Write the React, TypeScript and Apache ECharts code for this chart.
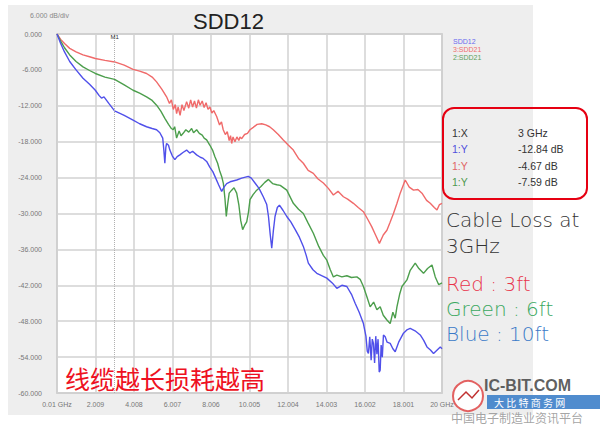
import React, { useEffect, useRef } from "react";
import * as echarts from "echarts";

const X0 = 0.01; // start frequency (GHz)
const X_STEP = 1.999;
const xTickLabels = ["0.01 GHz", "2.009", "4.008", "6.007", "8.006", "10.005", "12.004", "14.003", "16.002", "18.001", "20 GHz"];

const seriesNames = ["SDD12", "3:SDD21", "2:SDD21"];

const redFreq = [0.01, 0.2, 0.4, 0.67, 1.0, 1.36, 1.7, 2.0, 2.5, 3.0, 3.5, 3.96, 4.3, 4.66, 4.95, 5.18, 5.45, 5.7, 5.85, 5.95, 6.05, 6.15, 6.22, 6.3, 6.4, 6.5, 6.6, 6.74, 6.85, 6.95, 7.05, 7.15, 7.25, 7.35, 7.44, 7.55, 7.65, 7.75, 7.85, 7.95, 8.05, 8.15, 8.3, 8.45, 8.55, 8.64, 8.75, 8.85, 8.95, 9.02, 9.08, 9.15, 9.25, 9.35, 9.45, 9.51, 9.6, 9.75, 9.9, 10.03, 10.2, 10.4, 10.64, 10.85, 11.05, 11.24, 11.5, 11.76, 12.0, 12.28, 12.55, 12.8, 13.05, 13.32, 13.55, 13.84, 14.1, 14.36, 14.6, 14.88, 15.1, 15.4, 15.65, 15.92, 16.15, 16.35, 16.55, 16.75, 16.95, 17.14, 17.3, 17.48, 17.65, 17.83, 18.09, 18.3, 18.52, 18.75, 18.96, 19.2, 19.39, 19.6, 19.74, 19.87, 20.0];
const redDb = [0, -0.9, -1.6, -2.4, -3.0, -3.5, -3.8, -4.1, -4.4, -4.67, -5.2, -5.9, -6.2, -6.6, -7.2, -8.0, -9.2, -10.5, -11.6, -11.0, -12.6, -11.8, -13.3, -12.2, -13.6, -11.8, -12.8, -11.3, -12.4, -11.0, -12.2, -11.2, -12.4, -11.0, -11.9, -11.2, -12.3, -11.5, -12.6, -12.2, -13.2, -12.8, -13.8, -15.2, -14.7, -16.0, -16.8, -16.3, -17.8, -17.0, -18.3, -17.2, -18.0, -17.2, -17.8, -17.2, -17.5, -16.8, -16.6, -16.0, -15.6, -15.1, -15.0, -15.2, -15.5, -16.0, -16.8, -17.7, -18.5, -19.4, -20.8, -21.6, -22.8, -23.3, -24.2, -24.9, -25.8, -26.9, -26.3, -27.2, -27.6, -28.3, -29.0, -29.7, -31.0, -32.2, -33.6, -35.0, -33.6, -32.8, -31.5, -30.0, -28.4, -26.6, -24.4, -25.6, -26.1, -26.0, -26.6, -27.8, -28.3, -29.0, -29.4, -28.5, -28.3];

const greenFreq = [0.01, 0.2, 0.4, 0.67, 1.0, 1.36, 1.7, 2.0, 2.5, 3.0, 3.5, 3.96, 4.3, 4.66, 4.95, 5.18, 5.4, 5.61, 5.8, 5.95, 6.04, 6.12, 6.22, 6.35, 6.45, 6.56, 6.7, 6.85, 7.0, 7.1, 7.26, 7.4, 7.55, 7.65, 7.78, 7.95, 8.1, 8.21, 8.35, 8.45, 8.56, 8.65, 8.73, 8.8, 8.87, 8.95, 9.08, 9.2, 9.34, 9.45, 9.55, 9.65, 9.75, 9.86, 9.95, 10.03, 10.2, 10.38, 10.6, 10.8, 10.99, 11.2, 11.42, 11.6, 11.94, 12.28, 12.55, 12.8, 13.05, 13.32, 13.6, 13.84, 14.02, 14.2, 14.36, 14.54, 14.8, 15.06, 15.3, 15.58, 15.75, 15.92, 16.1, 16.27, 16.45, 16.62, 16.79, 16.95, 17.14, 17.31, 17.45, 17.57, 17.66, 17.8, 17.92, 18.18, 18.35, 18.61, 18.8, 19.04, 19.25, 19.48, 19.65, 19.83, 20.0];
const greenDb = [0, -1.2, -2.3, -3.5, -4.6, -5.5, -6.1, -6.6, -7.2, -7.59, -8.5, -9.4, -9.9, -10.5, -11.1, -11.9, -12.9, -14.1, -15.1, -15.8, -16.0, -15.5, -17.4, -16.2, -17.0, -16.6, -16.0, -16.4, -15.8, -16.5, -16.0, -16.6, -16.9, -17.4, -17.7, -18.6, -19.5, -20.5, -21.6, -22.8, -23.8, -25.0, -27.5, -30.5, -28.5, -26.6, -26.1, -25.7, -26.6, -28.5, -31.2, -32.7, -32.0, -31.4, -29.8, -27.7, -26.8, -26.1, -25.5, -24.8, -24.3, -25.0, -25.2, -25.3, -26.1, -28.3, -29.3, -30.0, -31.6, -33.3, -35.5, -37.0, -37.8, -39.4, -40.6, -40.3, -40.6, -40.4, -40.7, -40.6, -41.0, -42.2, -43.9, -45.6, -44.8, -46.1, -45.6, -47.0, -47.8, -48.4, -46.5, -47.5, -45.6, -43.5, -42.2, -41.1, -39.5, -38.3, -39.2, -40.0, -39.2, -38.6, -40.6, -41.9, -41.6];

const blueFreq = [0.01, 0.2, 0.4, 0.67, 1.0, 1.36, 1.7, 2.0, 2.2, 2.32, 2.45, 2.7, 3.0, 3.5, 3.96, 4.3, 4.66, 4.95, 5.18, 5.35, 5.5, 5.56, 5.61, 5.66, 5.7, 5.8, 5.87, 6.0, 6.13, 6.25, 6.39, 6.55, 6.74, 6.9, 7.05, 7.26, 7.45, 7.6, 7.78, 7.95, 8.1, 8.21, 8.4, 8.56, 8.7, 8.82, 9.0, 9.34, 9.6, 9.94, 10.1, 10.29, 10.5, 10.72, 10.9, 10.99, 11.08, 11.16, 11.24, 11.33, 11.45, 11.56, 11.75, 11.94, 12.15, 12.38, 12.6, 12.8, 12.95, 13.06, 13.3, 13.5, 13.75, 14.02, 14.3, 14.54, 14.8, 15.06, 15.3, 15.49, 15.7, 15.92, 16.05, 16.12, 16.18, 16.25, 16.32, 16.38, 16.44, 16.5, 16.56, 16.62, 16.68, 16.74, 16.79, 16.84, 16.9, 16.96, 17.05, 17.15, 17.31, 17.45, 17.57, 17.75, 18.0, 18.2, 18.35, 18.6, 18.87, 19.05, 19.22, 19.4, 19.56, 19.75, 19.91, 20.0];
const blueDb = [0, -1.6, -3.0, -4.6, -6.0, -7.4, -8.4, -9.4, -10.3, -10.7, -10.5, -11.6, -12.84, -13.6, -14.4, -15.0, -15.5, -15.8, -16.0, -16.5, -17.4, -19.5, -21.6, -19.0, -18.3, -18.6, -19.4, -20.4, -21.0, -20.5, -20.2, -19.8, -19.4, -19.9, -19.6, -20.2, -20.6, -20.8, -21.3, -22.3, -23.0, -23.8, -25.2, -26.3, -25.5, -25.0, -24.7, -24.4, -24.1, -23.8, -24.1, -24.9, -25.8, -27.2, -28.5, -30.5, -33.5, -35.8, -33.0, -30.5, -29.0, -28.6, -29.5, -30.5, -31.4, -32.7, -34.0, -35.5, -37.0, -38.3, -39.4, -40.0, -40.4, -40.8, -41.6, -42.5, -42.0, -42.2, -43.5, -45.0, -46.5, -48.4, -50.5, -53.0, -53.4, -50.6, -54.5, -51.0, -51.7, -55.0, -50.5, -53.5, -51.0, -56.5, -56.2, -52.0, -54.0, -50.3, -50.6, -51.5, -51.7, -52.6, -53.1, -51.5, -50.0, -49.4, -49.2, -49.6, -50.3, -51.2, -52.3, -52.8, -53.4, -52.8, -52.3, -52.6];

const markerFreq = 3;
const markerRows = [
  { label: "1:X", value: "3 GHz", color: "#333333" },
  { label: "1:Y", value: "-12.84 dB", color: "#5050dd" },
  { label: "1:Y", value: "-4.67 dB", color: "#e06464" },
  { label: "1:Y", value: "-7.59 dB", color: "#4f994f" },
];
const noteLines = [
  { text: "Cable Loss at", color: "#333333" },
  { text: "3GHz", color: "#333333" },
  { text: "Red : 3ft", color: "#e8334a" },
  { text: "Green : 6ft", color: "#3aa860" },
  { text: "Blue : 10ft", color: "#3a7ac8" },
];
const noteY = [220, 246, 284, 309, 334];
const chineseNote = "线缆越长损耗越高";

const colors = { blue: "#5050ea", red: "#f06a6a", green: "#4c9e4c" };

function toPairs(f: number[], d: number[]) {
  return f.map((v, i) => [v - X0, d[i]]);
}

export default function App() {
  const ref = useRef<HTMLDivElement>(null);
  useEffect(() => {
    if (!ref.current) return;
    const chart = echarts.init(ref.current, undefined, { renderer: "svg" });
    const sans = "Liberation Sans, Arial, sans-serif";
    const graphic: any[] = [
      { type: "rect", z: -10, shape: { x: 8, y: 5, width: 525, height: 410 }, style: { fill: "#eeeeee" } },
      { type: "text", x: 30, y: 15, style: { text: "6.000 dB/div", fontSize: 7, fill: "#888", fontFamily: sans, verticalAlign: "middle" } },
      { type: "rect", z: 50, shape: { x: 443, y: 108, width: 144, height: 91, r: 11 }, style: { fill: "none", stroke: "#e60012", lineWidth: 2 } },
    ];
    markerRows.forEach((r, i) => {
      const y = 133 + i * 16.3;
      graphic.push({ type: "text", z: 50, x: 452, y, style: { text: r.label, fontSize: 10.5, fill: r.color, fontFamily: sans, verticalAlign: "middle" } });
      graphic.push({ type: "text", z: 50, x: 518, y, style: { text: r.value, fontSize: 10.5, fill: "#333", fontFamily: sans, verticalAlign: "middle" } });
    });
    noteLines.forEach((n, i) => {
      graphic.push({ type: "text", z: 50, x: 446, y: noteY[i], style: { text: n.text, fontSize: 20, fill: n.color, fontFamily: "DejaVu Sans, sans-serif", fontWeight: 200, verticalAlign: "middle" } });
    });
    graphic.push({ type: "text", z: 100, x: 65, y: 378, style: { text: chineseNote, fontSize: 25, fill: "#ee1122", fontFamily: "Noto Sans CJK SC", verticalAlign: "middle" } });
    // watermark
    graphic.push({ type: "circle", z: 60, shape: { cx: 468, cy: 396, r: 15 }, style: { fill: "#ffffff", stroke: "#e05050", lineWidth: 2, opacity: 0.9 } });
    graphic.push({ type: "polyline", z: 61, shape: { points: [[458, 400], [466, 392], [472, 398], [479, 390]] }, style: { stroke: "#c03030", lineWidth: 1.5, fill: "none" } });
    graphic.push({ type: "text", z: 60, x: 484, y: 385, style: { text: "IC-BIT.COM", fontSize: 16, fontWeight: "bold", fill: "#444", fontFamily: sans, verticalAlign: "middle", opacity: 0.85 } });
    graphic.push({ type: "rect", z: 60, shape: { x: 487, y: 395, width: 113, height: 14 }, style: { fill: "#3d7fc9", opacity: 0.9 } });
    graphic.push({ type: "text", z: 61, x: 494, y: 402, style: { text: "大 比 特 商 务 网", fontSize: 10, fill: "#ffffff", fontFamily: "Noto Sans CJK SC", verticalAlign: "middle" } });
    graphic.push({ type: "text", z: 60, x: 451, y: 417, style: { text: "中国电子制造业资讯平台", fontSize: 12, fill: "#9a9a9a", fontFamily: "Noto Sans CJK SC", verticalAlign: "middle", opacity: 0.9 } });

    chart.setOption({
      animation: false,
      backgroundColor: "#ffffff",
      title: { text: "SDD12", left: 188, top: 5, textStyle: { fontSize: 22, fontWeight: "normal", color: "#222", fontFamily: sans } },
      legend: {
        orient: "vertical", left: 442, top: 33, itemWidth: 0, itemHeight: 0, itemGap: 1,
        selectedMode: false,
        textStyle: { fontSize: 7, fontFamily: sans },
        data: [
          { name: seriesNames[0], textStyle: { color: "#6a6aef" } },
          { name: seriesNames[1], textStyle: { color: "#f07070" } },
          { name: seriesNames[2], textStyle: { color: "#5aa05a" } },
        ],
      },
      grid: { left: 57, right: 158, top: 34, bottom: 32, show: true, backgroundColor: "#ffffff", borderColor: "#c0c0c0", borderWidth: 1.5 },
      xAxis: {
        type: "value", min: 0, max: 20 - X0, interval: X_STEP,
        axisLine: { show: false }, axisTick: { show: false },
        splitLine: { show: true, lineStyle: { color: "#d2d2d2", width: 1.5 } },
        axisLabel: { fontSize: 7, color: "#777", margin: 8, fontFamily: sans, formatter: (v: number) => xTickLabels[Math.round(v / X_STEP)] ?? "" },
      },
      yAxis: {
        type: "value", min: -60, max: 0, interval: 6,
        axisLine: { show: false }, axisTick: { show: false },
        splitLine: { show: true, lineStyle: { color: "#d2d2d2", width: 1.5 } },
        axisLabel: { fontSize: 7, color: "#777", margin: 15, fontFamily: sans, formatter: (v: number) => v.toFixed(3) },
      },
      series: [
        { name: seriesNames[0], type: "line", data: toPairs(blueFreq, blueDb), showSymbol: false, lineStyle: { color: colors.blue, width: 1.4 }, itemStyle: { color: colors.blue }, z: 3 },
        {
          name: seriesNames[1], type: "line", data: toPairs(redFreq, redDb), showSymbol: false, lineStyle: { color: colors.red, width: 1.4 }, itemStyle: { color: colors.red }, z: 2,
          markLine: {
            silent: true, symbol: "none",
            lineStyle: { type: "dotted", color: "#b0b0b0", width: 1 },
            label: { show: true, position: "end", distance: -6, formatter: "M1", fontSize: 6, color: "#333", fontFamily: sans },
            data: [{ xAxis: markerFreq - X0 }],
          },
        },
        { name: seriesNames[2], type: "line", data: toPairs(greenFreq, greenDb), showSymbol: false, lineStyle: { color: colors.green, width: 1.4 }, itemStyle: { color: colors.green }, z: 2 },
      ],
      graphic,
    });
    return () => chart.dispose();
  }, []);
  return <div ref={ref} style={{ position: "fixed", left: 0, top: 0, width: 600, height: 425 }} />;
}
